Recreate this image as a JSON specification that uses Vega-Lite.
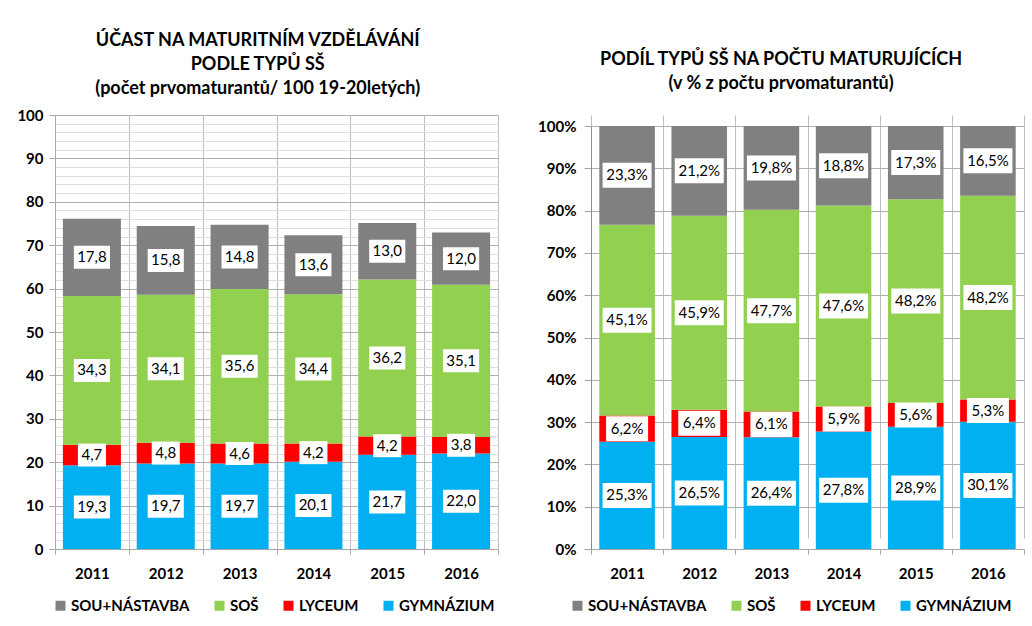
{
  "$schema": "https://vega.github.io/schema/vega-lite/v6.json",
  "background": "white",
  "padding": {"left": 16, "top": 32, "right": 0, "bottom": 0},
  "data": {"values": [
    {"rok": "2011", "typ": "GYMNÁZIUM", "pocet": 19.3, "podil": 25.3},
    {"rok": "2011", "typ": "LYCEUM", "pocet": 4.7, "podil": 6.2},
    {"rok": "2011", "typ": "SOŠ", "pocet": 34.3, "podil": 45.1},
    {"rok": "2011", "typ": "SOU+NÁSTAVBA", "pocet": 17.8, "podil": 23.3},
    {"rok": "2012", "typ": "GYMNÁZIUM", "pocet": 19.7, "podil": 26.5},
    {"rok": "2012", "typ": "LYCEUM", "pocet": 4.8, "podil": 6.4},
    {"rok": "2012", "typ": "SOŠ", "pocet": 34.1, "podil": 45.9},
    {"rok": "2012", "typ": "SOU+NÁSTAVBA", "pocet": 15.8, "podil": 21.2},
    {"rok": "2013", "typ": "GYMNÁZIUM", "pocet": 19.7, "podil": 26.4},
    {"rok": "2013", "typ": "LYCEUM", "pocet": 4.6, "podil": 6.1},
    {"rok": "2013", "typ": "SOŠ", "pocet": 35.6, "podil": 47.7},
    {"rok": "2013", "typ": "SOU+NÁSTAVBA", "pocet": 14.8, "podil": 19.8},
    {"rok": "2014", "typ": "GYMNÁZIUM", "pocet": 20.1, "podil": 27.8},
    {"rok": "2014", "typ": "LYCEUM", "pocet": 4.2, "podil": 5.9},
    {"rok": "2014", "typ": "SOŠ", "pocet": 34.4, "podil": 47.6},
    {"rok": "2014", "typ": "SOU+NÁSTAVBA", "pocet": 13.6, "podil": 18.8},
    {"rok": "2015", "typ": "GYMNÁZIUM", "pocet": 21.7, "podil": 28.9},
    {"rok": "2015", "typ": "LYCEUM", "pocet": 4.2, "podil": 5.6},
    {"rok": "2015", "typ": "SOŠ", "pocet": 36.2, "podil": 48.2},
    {"rok": "2015", "typ": "SOU+NÁSTAVBA", "pocet": 13.0, "podil": 17.3},
    {"rok": "2016", "typ": "GYMNÁZIUM", "pocet": 22.0, "podil": 30.1},
    {"rok": "2016", "typ": "LYCEUM", "pocet": 3.8, "podil": 5.3},
    {"rok": "2016", "typ": "SOŠ", "pocet": 35.1, "podil": 48.2},
    {"rok": "2016", "typ": "SOU+NÁSTAVBA", "pocet": 12.0, "podil": 16.5}
  ]},
  "transform": [
    {"calculate": "indexof(['GYMNÁZIUM','LYCEUM','SOŠ','SOU+NÁSTAVBA'], datum.typ)", "as": "ord"}
  ],
  "spacing": 38,
  "hconcat": [
    {
      "width": 443,
      "height": 434,
      "title": {
        "text": ["ÚČAST NA MATURITNÍM VZDĚLÁVÁNÍ", "PODLE TYPŮ SŠ", "(počet prvomaturantů/ 100 19-20letých)"],
        "frame": "bounds", "anchor": "middle", "offset": 10,
        "fontSize": 18, "lineHeight": 24, "font": "Lato", "fontWeight": "bold", "color": "#000000"
      },
      "transform": [
        {"stack": "pocet", "groupby": ["rok"], "sort": [{"field": "ord", "order": "ascending"}], "as": ["y0", "y1"]},
        {"calculate": "(datum.y0 + datum.y1) / 2", "as": "ymid"},
        {"calculate": "replace(format(datum.pocet, '.1f'), '.', ',')", "as": "label"},
        {"calculate": "length(datum.label)", "as": "delka"}
      ],
      "encoding": {
        "x": {
          "field": "rok", "type": "ordinal",
          "scale": {"paddingInner": 0, "paddingOuter": 0},
          "axis": {
            "title": null, "labelAngle": 0, "tickBand": "extent", "grid": true,
            "gridColor": "#bfbfbf", "domainColor": "#a6a6a6", "tickColor": "#a6a6a6",
            "tickSize": 5, "labelPadding": 12
          }
        }
      },
      "layer": [
        {
          "mark": {"type": "bar", "width": {"band": 0.786}},
          "encoding": {
            "y": {
              "field": "y1", "type": "quantitative",
              "scale": {"domain": [0, 100]},
              "axis": {
                "title": null,
                "values": [0,2,4,6,8,10,12,14,16,18,20,22,24,26,28,30,32,34,36,38,40,42,44,46,48,50,52,54,56,58,60,62,64,66,68,70,72,74,76,78,80,82,84,86,88,90,92,94,96,98,100],
                "labelExpr": "datum.value % 10 === 0 ? datum.label : ''",
                "labelOverlap": false,
                "gridColor": {"condition": {"test": "datum.value % 10 === 0", "value": "#b0b0b0"}, "value": "#dedede"},
                "tickColor": {"condition": {"test": "datum.value % 10 === 0", "value": "#a6a6a6"}, "value": "transparent"},
                "domainColor": "#a6a6a6", "tickSize": 6, "labelPadding": 6
              }
            },
            "y2": {"field": "y0"},
            "color": {
              "field": "typ", "type": "nominal",
              "scale": {"domain": ["SOU+NÁSTAVBA", "SOŠ", "LYCEUM", "GYMNÁZIUM"], "range": ["#808080", "#92D050", "#FF0000", "#00B0F0"]},
              "legend": {
                "orient": "none", "legendX": -2, "legendY": 483, "direction": "horizontal", "title": null,
                "symbolType": "square", "symbolSize": 100, "symbolStrokeWidth": 0,
                "labelFontSize": 15, "labelFontWeight": "bold", "labelFont": "Lato", "labelColor": "#000000",
                "columnPadding": 22, "labelOffset": 3
              }
            }
          }
        },
        {
          "mark": {"type": "point", "filled": true, "color": "white", "opacity": 1, "size": 529, "strokeWidth": 0},
          "encoding": {
            "y": {
              "field": "ymid", "type": "quantitative",
              "axis": {
                "title": null,
                "values": [0,2,4,6,8,10,12,14,16,18,20,22,24,26,28,30,32,34,36,38,40,42,44,46,48,50,52,54,56,58,60,62,64,66,68,70,72,74,76,78,80,82,84,86,88,90,92,94,96,98,100],
                "labelExpr": "datum.value % 10 === 0 ? datum.label : ''",
                "labelOverlap": false,
                "gridColor": {"condition": {"test": "datum.value % 10 === 0", "value": "#b0b0b0"}, "value": "#dedede"},
                "tickColor": {"condition": {"test": "datum.value % 10 === 0", "value": "#a6a6a6"}, "value": "transparent"},
                "domainColor": "#a6a6a6", "tickSize": 6, "labelPadding": 6
              }
            },
            "shape": {"field": "delka", "type": "nominal", "scale": {"domain": [3, 4], "range": ["M-1.22,-1H1.22V1H-1.22Z", "M-1.57,-1H1.57V1H-1.57Z"]}, "legend": null}
          }
        },
        {
          "mark": {"type": "text", "fontSize": 15, "font": "Lato", "color": "#000000", "align": "center", "baseline": "middle"},
          "encoding": {
            "y": {
              "field": "ymid", "type": "quantitative",
              "axis": {
                "title": null,
                "values": [0,2,4,6,8,10,12,14,16,18,20,22,24,26,28,30,32,34,36,38,40,42,44,46,48,50,52,54,56,58,60,62,64,66,68,70,72,74,76,78,80,82,84,86,88,90,92,94,96,98,100],
                "labelExpr": "datum.value % 10 === 0 ? datum.label : ''",
                "labelOverlap": false,
                "gridColor": {"condition": {"test": "datum.value % 10 === 0", "value": "#b0b0b0"}, "value": "#dedede"},
                "tickColor": {"condition": {"test": "datum.value % 10 === 0", "value": "#a6a6a6"}, "value": "transparent"},
                "domainColor": "#a6a6a6", "tickSize": 6, "labelPadding": 6
              }
            },
            "text": {"field": "label"}
          }
        }
      ]
    },
    {
      "width": 433,
      "height": 434,
      "title": {
        "text": ["PODÍL TYPŮ SŠ NA POČTU MATURUJÍCÍCH", "(v % z počtu prvomaturantů)"],
        "frame": "bounds", "anchor": "middle", "offset": 22,
        "fontSize": 18, "lineHeight": 24, "font": "Lato", "fontWeight": "bold", "color": "#000000"
      },
      "transform": [
        {"stack": "podil", "groupby": ["rok"], "sort": [{"field": "ord", "order": "ascending"}], "offset": "normalize", "as": ["p0", "p1"]},
        {"calculate": "(datum.p0 + datum.p1) / 2", "as": "pmid"},
        {"calculate": "replace(format(datum.podil, '.1f'), '.', ',') + '%'", "as": "label"},
        {"calculate": "length(datum.label)", "as": "delka"}
      ],
      "encoding": {
        "x": {
          "field": "rok", "type": "ordinal",
          "scale": {"paddingInner": 0, "paddingOuter": 0},
          "axis": {
            "title": null, "labelAngle": 0, "tickBand": "extent", "grid": true,
            "gridColor": "#bfbfbf", "domainColor": "#a6a6a6", "tickColor": "#a6a6a6",
            "tickSize": 5, "labelPadding": 12
          }
        }
      },
      "layer": [
        {
          "mark": {"type": "bar", "width": {"band": 0.77}},
          "encoding": {
            "y": {
              "field": "p1", "type": "quantitative",
              "scale": {"domain": [0, 1], "range": [434, 11]},
              "axis": {
                "title": null,
                "values": [0, 0.1, 0.2, 0.3, 0.4, 0.5, 0.6, 0.7, 0.8, 0.9, 1],
                "format": ".0%",
                "labelOverlap": false,
                "gridColor": "#b0b0b0", "domainColor": "#8c8c8c", "tickColor": "#a6a6a6",
                "tickSize": 7, "labelPadding": 8
              }
            },
            "y2": {"field": "p0"},
            "color": {
              "field": "typ", "type": "nominal",
              "scale": {"domain": ["SOU+NÁSTAVBA", "SOŠ", "LYCEUM", "GYMNÁZIUM"], "range": ["#808080", "#92D050", "#FF0000", "#00B0F0"]},
              "legend": {
                "orient": "none", "legendX": -21, "legendY": 483, "direction": "horizontal", "title": null,
                "symbolType": "square", "symbolSize": 100, "symbolStrokeWidth": 0,
                "labelFontSize": 15, "labelFontWeight": "bold", "labelFont": "Lato", "labelColor": "#000000",
                "columnPadding": 22, "labelOffset": 3
              }
            }
          }
        },
        {
          "mark": {"type": "point", "filled": true, "color": "white", "opacity": 1, "size": 625, "strokeWidth": 0},
          "encoding": {
            "y": {"field": "pmid", "type": "quantitative"},
            "shape": {"field": "delka", "type": "nominal", "scale": {"domain": [4, 5], "range": ["M-1.68,-1H1.68V1H-1.68Z", "M-1.96,-1H1.96V1H-1.96Z"]}, "legend": null}
          }
        },
        {
          "mark": {"type": "text", "fontSize": 15, "font": "Lato", "color": "#000000", "align": "center", "baseline": "middle"},
          "encoding": {
            "y": {"field": "pmid", "type": "quantitative"},
            "text": {"field": "label"}
          }
        }
      ]
    }
  ],
  "resolve": {
    "scale": {"color": "independent", "x": "independent", "y": "independent", "shape": "independent"},
    "legend": {"color": "independent", "shape": "independent"}
  },
  "config": {
    "font": "Lato",
    "view": {"stroke": null},
    "axis": {"labelFont": "Lato", "labelFontWeight": "bold", "labelFontSize": 15, "labelColor": "#000000"}
  }
}
